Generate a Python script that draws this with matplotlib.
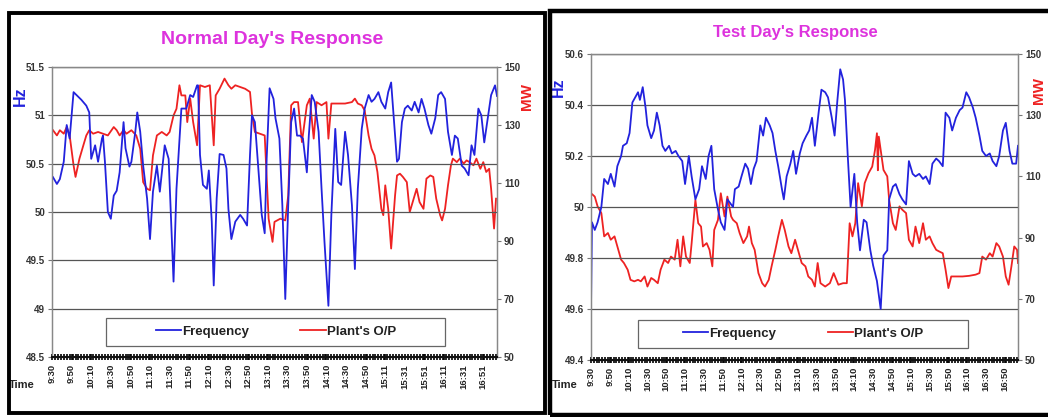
import matplotlib
matplotlib.use("Agg")
import matplotlib.pyplot as plt
from matplotlib.patches import Rectangle
from matplotlib.ticker import MultipleLocator

plt.rcParams['font.family'] = ['Liberation Sans', 'DejaVu Sans']

# minute index from start of the record, and readings
normal_hz_t = [1, 5, 8, 12, 15, 18, 22, 25, 30, 35, 38, 40, 44, 47, 51, 52, 54, 57, 60, 63, 66, 69, 73, 75, 79, 81,
               85, 87, 90, 93, 97, 100, 103, 107, 110, 115, 119, 124, 127, 132, 137, 141, 144, 148, 149, 151, 154,
               158, 160, 163, 165, 168, 171, 175, 178, 180, 183, 187, 192, 195, 199, 202, 204, 207, 210, 214, 217,
               219, 222, 226, 228, 232, 235, 238, 241, 244, 247, 250, 253, 256, 260, 262, 265, 268, 272, 275, 278,
               282, 285, 289, 292, 295, 299, 302, 306, 309, 312, 316, 319, 323, 326, 329, 333, 336, 340, 343, 346,
               349, 352, 354, 357, 360, 363, 367, 370, 374, 377, 380, 384, 387, 391, 394, 397, 401, 404, 408, 411,
               414, 418, 421, 425, 428, 431, 435, 438, 441, 445, 448, 452, 454]
normal_hz = [50.36, 50.29, 50.34, 50.52, 50.9, 50.76, 51.24, 51.21, 51.16, 51.1, 51.03, 50.55, 50.69, 50.52, 50.76,
             50.79, 50.52, 50.0, 49.93, 50.17, 50.22, 50.41, 50.93, 50.66, 50.47, 50.52, 50.83, 51.03, 50.83, 50.48,
             50.14, 49.72, 50.21, 50.48, 50.21, 50.69, 50.55, 49.28, 50.24, 51.07, 51.07, 51.21, 51.19, 51.31, 51.31,
             50.59, 50.28, 50.24, 50.43, 49.9, 49.24, 50.14, 50.6, 50.59, 50.45, 50.03, 49.72, 49.9, 49.97, 49.93,
             49.86, 50.59, 51.0, 50.93, 50.52, 49.97, 49.78, 50.55, 51.28, 51.17, 50.97, 50.76, 50.07, 49.1, 50.07,
             50.93, 51.07, 50.79, 50.79, 50.76, 50.41, 50.79, 51.21, 51.14, 50.83, 50.24, 49.69, 49.03, 49.97, 50.86,
             50.31, 50.28, 50.83, 50.59, 50.07, 49.41, 50.24, 50.86, 51.07, 51.21, 51.14, 51.17, 51.24, 51.14, 51.07,
             51.24, 51.34, 50.93, 50.52, 50.55, 50.93, 51.07, 51.1, 51.05, 51.14, 51.03, 51.17, 51.07, 50.9, 50.81,
             50.97, 51.21, 51.24, 51.17, 50.83, 50.59, 50.79, 50.76, 50.48, 50.45, 50.38, 50.69, 50.59, 51.07, 51.0,
             50.72, 51.0, 51.21, 51.31, 51.2]

normal_mw_t = [1, 5, 8, 12, 15, 18, 22, 24, 28, 32, 35, 38, 42, 47, 52, 57, 63, 66, 69, 73, 76, 81, 86, 90, 93, 97,
               100, 103, 107, 112, 117, 120, 124, 127, 130, 132, 136, 138, 141, 144, 148, 151, 156, 161, 165, 167,
               171, 176, 180, 183, 187, 192, 197, 202, 204, 207, 212, 217, 221, 225, 227, 233, 238, 241, 244, 247,
               251, 255, 260, 263, 267, 270, 275, 280, 282, 285, 292, 299, 306, 309, 312, 316, 319, 323, 326, 329,
               332, 336, 338, 340, 343, 346, 350, 352, 355, 358, 362, 365, 369, 372, 375, 379, 382, 386, 389, 392,
               396, 398, 401, 404, 407, 409, 413, 416, 420, 423, 426, 430, 433, 437, 440, 443, 446, 448, 451, 453]
normal_mw = [128.2, 126.4, 128.2, 127, 129.3, 126.4, 116.1, 112.1, 118.4, 123, 126.4, 128.2, 127, 127.6, 127, 126.4,
             129.3, 128.2, 126.4, 128.2, 127, 128.2, 126.4, 121.8, 110.3, 108, 107.5, 119.5, 126.4, 127.6, 126.4,
             127.6, 133.3, 135.6, 143.7, 140.2, 140.2, 131, 139.1, 131, 123, 143.7, 143.1, 143.7, 123, 140.2, 142.5,
             146, 143.7, 142.5, 143.7, 143.1, 142.5, 141.4, 133.9, 127.6, 127, 126.4, 97.7, 89.7, 96.6, 97.7, 97.1,
             105.7, 136.8, 137.9, 137.9, 124.1, 136.8, 139.1, 125.3, 137.9, 136.8, 137.9, 125.3, 137.4, 137.4, 137.4,
             137.9, 139.1, 137.4, 136.8, 135, 126.4, 121.8, 119.5, 113.8, 101.1, 98.9, 109.2, 101.1, 87.4, 105.7,
             112.6, 113.2, 112.1, 110.3, 100, 104.6, 108, 103.4, 101.1, 111.5, 112.6, 112.1, 104.6, 98.9, 97.1, 101.1,
             109.2, 116.1, 118.4, 117.2, 118.4, 116.7, 117.8, 117.2, 116.1, 118.4, 114.9, 117.2, 113.8, 114.9, 108,
             94.3, 104.6]

test_hz_t = [0, 1, 4, 7, 11, 14, 18, 21, 25, 28, 32, 34, 38, 41, 44, 47, 50, 52, 55, 58, 60, 64, 67, 70, 73, 76, 79,
             83, 86, 90, 93, 97, 100, 104, 107, 111, 115, 118, 122, 125, 128, 131, 135, 138, 142, 145, 151, 153, 157,
             160, 164, 167, 170, 173, 176, 180, 183, 186, 190, 193, 196, 199, 203, 205, 208, 212, 215, 218, 222, 225,
             229, 232, 235, 238, 242, 245, 249, 252, 256, 259, 262, 265, 268, 270, 273, 276, 280, 283, 286, 290, 293,
             297, 300, 304, 308, 311, 315, 317, 321, 324, 328, 331, 335, 338, 342, 345, 349, 353, 356, 360, 363, 367,
             370, 374, 377, 381, 384, 388, 392, 395, 399, 402, 406, 409, 413, 416, 420, 424, 427, 431, 434, 438, 441,
             445, 448, 452, 454]
test_hz = [49.6, 49.94, 49.91, 49.94, 50.0, 50.11, 50.09, 50.13, 50.08, 50.16, 50.2, 50.24, 50.25, 50.29, 50.41,
           50.43, 50.45, 50.42, 50.47, 50.39, 50.32, 50.27, 50.3, 50.37, 50.32, 50.24, 50.22, 50.24, 50.21, 50.22,
           50.2, 50.18, 50.09, 50.2, 50.12, 50.03, 50.07, 50.16, 50.11, 50.2, 50.24, 50.07, 49.99, 49.94, 49.91, 50.03,
           50.0, 50.07, 50.08, 50.12, 50.17, 50.15, 50.09, 50.15, 50.18, 50.32, 50.28, 50.35, 50.32, 50.29, 50.22,
           50.16, 50.07, 50.03, 50.12, 50.17, 50.22, 50.13, 50.21, 50.25, 50.28, 50.3, 50.35, 50.24, 50.37, 50.46,
           50.45, 50.43, 50.35, 50.28, 50.42, 50.54, 50.5, 50.42, 50.2, 50.0, 50.13, 49.94, 49.83, 49.95, 49.94,
           49.83, 49.77, 49.71, 49.6, 49.81, 49.83, 50.03, 50.08, 50.09, 50.05, 50.03, 50.01, 50.18, 50.13, 50.12,
           50.13, 50.11, 50.12, 50.09, 50.17, 50.19, 50.18, 50.16, 50.37, 50.35, 50.3, 50.35, 50.38, 50.39, 50.45,
           50.43, 50.39, 50.35, 50.28, 50.22, 50.2, 50.21, 50.18, 50.16, 50.2, 50.3, 50.33, 50.22, 50.17, 50.17, 50.24]

test_mw_t = [0, 4, 7, 11, 14, 18, 21, 25, 28, 32, 35, 39, 42, 46, 50, 53, 57, 60, 64, 67, 71, 74, 78, 82, 85, 89, 92,
             95, 98, 101, 105, 107, 111, 114, 117, 119, 123, 126, 129, 131, 135, 138, 142, 145, 149, 151, 155, 158,
             162, 166, 168, 171, 174, 178, 182, 185, 189, 192, 196, 199, 203, 206, 210, 213, 217, 221, 224, 228, 231,
             235, 238, 241, 244, 249, 254, 258, 263, 268, 272, 275, 278, 281, 284, 288, 291, 295, 299, 302, 304, 305,
             306, 308, 311, 315, 317, 321, 324, 328, 331, 335, 338, 342, 345, 349, 353, 356, 360, 363, 367, 370, 374,
             377, 380, 383, 388, 395, 402, 409, 413, 416, 420, 424, 427, 431, 434, 438, 441, 444, 447, 450, 453, 454]
test_mw = [104.5, 103.4, 100.2, 98, 90.4, 91.5, 89.3, 90.4, 87.1, 82.8, 81.7, 79.5, 76.2, 75.7, 76.2, 75.7, 77.3, 74,
           76.8, 76.2, 75.1, 79.5, 82.8, 81.7, 83.8, 82.8, 89.3, 80.6, 90.4, 83.8, 81.7, 88.2, 102.3, 94.7, 93.6,
           87.1, 88.2, 86, 80.6, 92.5, 95.8, 104.5, 96.9, 103.4, 96.9, 95.8, 94.7, 91.5, 88.2, 90.4, 93.6, 88.2, 86,
           78.4, 75.1, 74, 76.2, 80.6, 86, 90.4, 95.8, 92.5, 87.1, 84.9, 89.3, 84.9, 81.7, 80.6, 77.3, 76.2, 74, 81.7,
           75.1, 74, 75.1, 78.4, 74.6, 75.1, 75.1, 94.7, 90.4, 94.7, 107.8, 100.2, 107.8, 111, 113.2, 118.7, 124.1,
           112, 123, 118.7, 112.1, 110, 102.3, 94.7, 92.5, 100.2, 99.1, 98, 89.3, 87.1, 93.6, 88.2, 94.7, 89.3, 90.4,
           88.2, 86, 85.5, 84.9, 79.5, 73.5, 77.3, 77.3, 77.3, 77.5, 77.9, 78.4, 83.8, 82.8, 84.9, 83.8, 88.2, 87.1,
           83.8, 77.3, 74.6, 80.6, 87.1, 86, 81.7]

normal_labels = ['9:30', '9:50', '10:10', '10:30', '10:50', '11:10', '11:30', '11:50', '12:10', '12:30', '12:50',
                 '13:10', '13:30', '13:50', '14:10', '14:30', '14:50', '15:11', '15:31', '15:51', '16:11', '16:31',
                 '16:51']
test_labels = ['9:30', '9:50', '10:10', '10:30', '10:50', '11:10', '11:30', '11:50', '12:10', '12:30', '12:50',
               '13:10', '13:30', '13:50', '14:10', '14:30', '14:50', '15:10', '15:30', '15:50', '16:10', '16:30',
               '16:50']

BLUE = '#2222dd'
RED = '#ee2222'
MAGENTA = '#dd33dd'
W, H = 1048, 417


def fig_box(x0, y0, x1, y1):
    # pixel box (top-left origin) -> figure fraction rect
    return [x0 / W, 1 - y1 / H, (x1 - x0) / W, (y1 - y0) / H]


def draw_panel(fig, box, hz_t, hz, mw_t, mw, labels, hz_lim, hz_step, hz_fmt, legend_box, legend_cx, lab_pos):
    ax = fig.add_axes(fig_box(*box))
    ax2 = ax.twinx()
    ax.set_zorder(ax2.get_zorder() + 1)
    ax.patch.set_visible(False)

    ax.plot(hz_t, hz, color=BLUE, lw=1.3, label='Frequency')
    ax2.plot(mw_t, mw, color=RED, lw=1.3, label="Plant's O/P")

    ax.set_xlim(0, 454)
    ax.set_ylim(*hz_lim)
    ax2.set_ylim(50, 150)

    n = round((hz_lim[1] - hz_lim[0]) / hz_step)
    yt = [hz_lim[0] + i * hz_step for i in range(n + 1)]
    ax.set_yticks(yt)
    ax.set_yticklabels([hz_fmt(v) for v in yt])
    ax2.set_yticks([50, 70, 90, 110, 130, 150])
    ax.yaxis.grid(True, color='#555555', lw=0.9)
    ax.set_axisbelow(True)

    ax.set_xticks([i * 20 for i in range(len(labels))])
    ax.set_xticklabels(labels, rotation=90)
    ax.xaxis.set_minor_locator(MultipleLocator(3))
    ax.tick_params(axis='x', which='major', length=4, width=1.2, direction='inout', pad=3,
                   labelsize=6.8, labelcolor='#222222')
    ax.tick_params(axis='x', which='minor', length=4, width=1.2, direction='inout')
    ax.tick_params(axis='y', length=3, width=0.8, color='#777777', labelsize=7, labelcolor='#333333', pad=2)
    ax2.tick_params(axis='y', length=3, width=0.8, color='#777777', labelsize=7, labelcolor='#333333', pad=2)
    for lab in ax.get_xticklabels() + ax.get_yticklabels() + ax2.get_yticklabels():
        lab.set_fontweight('bold')

    for a in (ax, ax2):
        for s in a.spines.values():
            s.set_color('#888888')
            s.set_linewidth(0.9)
    ax.spines['bottom'].set_color('#111111')
    ax.spines['bottom'].set_linewidth(1.5)

    ax.set_ylabel('Hz', color=BLUE, fontweight='bold', fontsize=11.5)
    ax.yaxis.set_label_coords(*lab_pos[0])
    ax2.set_ylabel('MW', color=RED, fontweight='bold', fontsize=11)
    ax2.yaxis.set_label_coords(*lab_pos[1])
    ax.text(*lab_pos[2], 'Time', transform=ax.transAxes, fontsize=8, fontweight='bold',
            color='#222222', ha='center', va='center')

    # legend box drawn separately, entries centred inside it
    ax.add_patch(Rectangle(legend_box[:2], legend_box[2], legend_box[3], transform=ax.transAxes,
                           fill=True, fc='white', ec='#666666', lw=0.9, zorder=4))
    h1, l1 = ax.get_legend_handles_labels()
    h2, l2 = ax2.get_legend_handles_labels()
    leg = ax.legend(h1 + h2, l1 + l2, loc='center', bbox_to_anchor=(legend_cx, legend_box[1] + legend_box[3] / 2),
                    ncol=2, frameon=False, fontsize=9.5, handlelength=1.9, handletextpad=0.1,
                    borderaxespad=0, borderpad=0, columnspacing=3.9)
    leg.set_zorder(5)
    for t in leg.get_texts():
        t.set_fontweight('bold')
        t.set_color('#222222')
    return ax


fig = plt.figure(figsize=(W / 100, H / 100), dpi=100)

# panel frames
fig.patches.append(Rectangle((9 / W, 1 - 413 / H), 536 / W, 400 / H, transform=fig.transFigure,
                             fill=False, ec='black', lw=2.8))
fig.patches.append(Rectangle((550 / W, 1 - 415 / H), 505 / W, 404 / H, transform=fig.transFigure,
                             fill=False, ec='black', lw=3.2))

draw_panel(fig, (52, 67, 497, 357), normal_hz_t, normal_hz, normal_mw_t, normal_mw, normal_labels,
           (48.5, 51.5), 0.5, lambda v: f'{v:g}', (0.121, 0.038, 0.762, 0.097), 0.503,
           [(-0.054, 0.90), (1.052, 0.90), (-0.067, -0.097)])
draw_panel(fig, (591, 54, 1018, 360), test_hz_t, test_hz, test_mw_t, test_mw, test_labels,
           (49.4, 50.6), 0.2, lambda v: f'{v:.1f}'.rstrip('0').rstrip('.'), (0.11, 0.039, 0.773, 0.092), 0.497,
           [(-0.059, 0.89), (1.033, 0.88), (-0.061, -0.082)])

fig.text(272 / W, 1 - 40 / H, "Normal Day's Response", color=MAGENTA, fontsize=14, fontweight='bold',
         ha='center', va='center')
fig.text(795 / W, 1 - 32 / H, "Test Day's Response", color=MAGENTA, fontsize=12, fontweight='bold',
         ha='center', va='center')

fig.savefig('out.png', dpi=100)
